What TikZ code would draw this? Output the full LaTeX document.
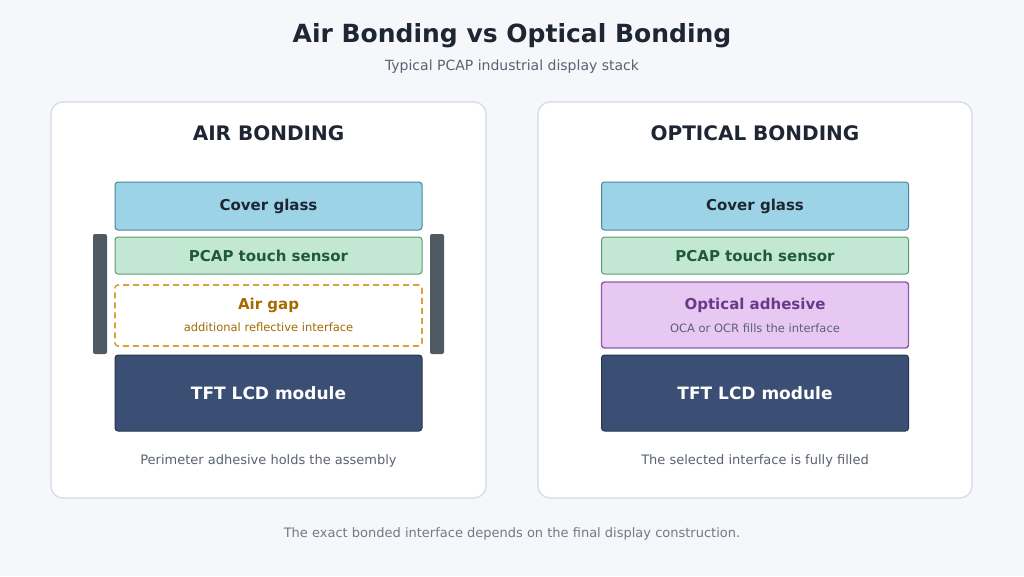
\documentclass[tikz,border=0pt]{standalone}
\usepackage{fontspec}
\setmainfont{DejaVu Sans}
\usetikzlibrary{positioning}
\definecolor{bgc}{HTML}{F5F7FA}
\definecolor{ink}{HTML}{1F2633}
\definecolor{muted}{HTML}{5A6270}
\definecolor{panelb}{HTML}{D3D9E2}
\definecolor{glassf}{HTML}{9DD3E6}
\definecolor{glassd}{HTML}{4A86A0}
\definecolor{sensf}{HTML}{C2E8D3}
\definecolor{sensd}{HTML}{5A9A70}
\definecolor{senst}{HTML}{1F5A3A}
\definecolor{gapd}{HTML}{D9A23A}
\definecolor{gapt}{HTML}{A66A00}
\definecolor{lcdf}{HTML}{3A4F73}
\definecolor{lcdd}{HTML}{263650}
\definecolor{barc}{HTML}{4F5A63}
\definecolor{ocaf}{HTML}{E6C8F2}
\definecolor{ocad}{HTML}{8E5AA8}
\definecolor{ocat}{HTML}{6A3A8A}
\tikzset{
  panel/.style={draw=panelb,line width=1.2pt,fill=white,rounded corners=12pt},
  layer/.style={rounded corners=3pt,line width=1pt,minimum width=307pt,align=center,font=\bfseries\fontsize{15}{18}\selectfont},
  bar/.style={fill=barc,rounded corners=2pt},
  caption/.style={text=muted,font=\fontsize{13}{15}\selectfont}
}
\begin{document}
\begin{tikzpicture}[x=1pt,y=-1pt]
	\fill[bgc] (0,0) rectangle (1024,576);
	\useasboundingbox (0,0) rectangle (1024,576);
	\node[text=ink,font=\bfseries\fontsize{25}{30}\selectfont] (title) at (512,36) {Air Bonding vs Optical Bonding};
	\node[caption,font=\fontsize{14}{17}\selectfont] (sub) at (512,67) {Typical PCAP industrial display stack};
	% air bonding
	\draw[panel] (51,102) rectangle (486,498);
	\node[text=ink,font=\bfseries\fontsize{20}{24}\selectfont] (airhead) at (268.5,133) {AIR BONDING};
	\fill[bar] (93,234) rectangle (107,354);
	\fill[bar] (430,234) rectangle (444,354);
	\node[layer,fill=glassf,draw=glassd,text=ink,minimum height=48pt] (aglass) at (268.5,206) {Cover glass};
	\node[layer,fill=sensf,draw=sensd,text=senst,minimum height=37pt] (asens) at (268.5,255.5) {PCAP touch sensor};
	\node[layer,fill=white,draw=gapd,dashed,dash pattern=on 6pt off 4pt,line width=1.6pt,text=gapt,minimum height=61pt] (agap) at (268.5,315.5) {};
	\node[text=gapt,font=\bfseries\fontsize{15}{18}\selectfont] (agapt) at (268.5,305) {Air gap};
	\node[text=gapt,font=\fontsize{11.5}{14}\selectfont] (agaps) at (268.5,327) {additional reflective interface};
	\node[layer,fill=lcdf,draw=lcdd,text=white,minimum height=76pt,font=\bfseries\fontsize{17}{20}\selectfont] (alcd) at (268.5,393) {TFT LCD module};
	\node[caption] (acap) at (268.5,461) {Perimeter adhesive holds the assembly};
	% optical bonding
	\draw[panel] (538,102) rectangle (972,498);
	\node[text=ink,font=\bfseries\fontsize{20}{24}\selectfont] (opthead) at (755,133) {OPTICAL BONDING};
	\node[layer,fill=glassf,draw=glassd,text=ink,minimum height=48pt] (oglass) at (755,206) {Cover glass};
	\node[layer,fill=sensf,draw=sensd,text=senst,minimum height=37pt] (osens) at (755,255.5) {PCAP touch sensor};
	\node[layer,fill=ocaf,draw=ocad,line width=1.4pt,minimum height=66pt] (oadh) at (755,315) {};
	\node[text=ocat,font=\bfseries\fontsize{15}{18}\selectfont] (oadht) at (755,305) {Optical adhesive};
	\node[text=muted,font=\fontsize{11.5}{14}\selectfont] (oadhs) at (755,328) {OCA or OCR fills the interface};
	\node[layer,fill=lcdf,draw=lcdd,text=white,minimum height=76pt,font=\bfseries\fontsize{17}{20}\selectfont] (olcd) at (755,393) {TFT LCD module};
	\node[caption] (ocap) at (755,461) {The selected interface is fully filled};
	\node[caption,text=muted!85] (foot) at (512,534) {The exact bonded interface depends on the final display construction.};
\end{tikzpicture}
\end{document}
